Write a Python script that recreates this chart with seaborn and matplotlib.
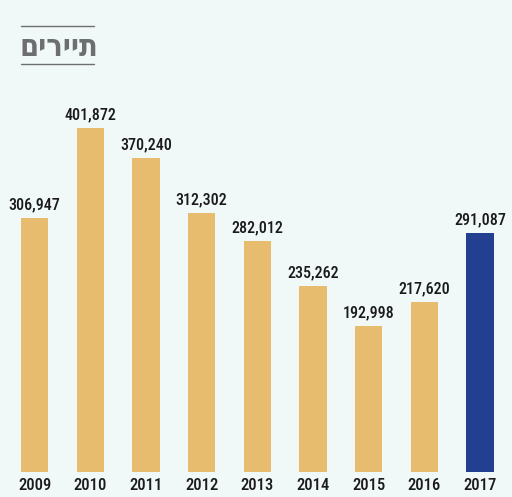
import matplotlib
matplotlib.use("Agg")
import matplotlib.pyplot as plt
from matplotlib.lines import Line2D
import seaborn as sns
import pandas as pd
from matplotlib import font_manager

years = ["2009", "2010", "2011", "2012", "2013", "2014", "2015", "2016", "2017"]
tourists = [306947, 401872, 370240, 312302, 282012, 235262, 192998, 217620, 291087]
title_text = "תיירים"

BG = "#f1f8f8"
TAN = "#e7bc6e"
BLUE = "#233f8f"
colors = [TAN] * 8 + [BLUE]

sns.set_theme(style="white")
names = {f.name for f in font_manager.fontManager.ttflist}
cands = ["Roboto Condensed", "Open Sans Condensed", "Liberation Sans Narrow",
         "Noto Sans Condensed", "Arial Narrow", "DejaVu Sans Condensed"]
num_font = next((c for c in cands if c in names), None)
stretch = "normal"
if num_font is None:
    num_font = "DejaVu Sans"
    stretch = "condensed"
plt.rcParams["font.family"] = [num_font, "DejaVu Sans"]

W, H = 512, 497
fig = plt.figure(figsize=(W / 100, H / 100), dpi=100, facecolor=BG)
ax_left = 6.9 / W
ax_w = 501 / W
ax_bottom = (H - 472) / H
ax_h = (472 - 80) / H
ax = fig.add_axes([ax_left, ax_bottom, ax_w, ax_h], facecolor=BG)

df = pd.DataFrame({"year": years, "tourists": tourists})
sns.barplot(data=df, x="year", y="tourists", hue="year", palette=colors,
            width=0.49, legend=False, ax=ax, saturation=1, linewidth=0,
            edgecolor="none")
ax.set_xlim(-0.5, 8.5)
ax.set_ylim(38236, 452613)
fs = 11.5 if stretch == "normal" else 9.5
for c in ax.containers:
    ax.bar_label(c, labels=[f"{int(round(v)):,}" for v in c.datavalues], padding=4,
                 fontsize=fs, fontweight="medium", color="#1a1a1a",
                 family=[num_font, "DejaVu Sans"], fontstretch=stretch)
ax.set_xlabel("")
ax.set_ylabel("")
ax.set_yticks([])
ax.tick_params(axis="x", length=0, pad=4, labelcolor="#1a1a1a")
for lab in ax.get_xticklabels():
    lab.set_fontweight("medium")
    lab.set_fontsize(fs + 0.5)
    lab.set_fontstretch(stretch)
for s in ax.spines.values():
    s.set_visible(False)

# Title (reversed for RTL display since matplotlib has no bidi)
fig.text(20 / W, 1 - 47 / H, title_text[::-1], fontsize=22, color="#6d6e70",
         family=["DejaVu Sans"], fontweight="bold", fontstretch="condensed",
         va="center", ha="left")
for yy in (26, 64):
    fig.add_artist(Line2D([21 / W, 94 / W], [1 - yy / H, 1 - yy / H],
                          color="#6d6e70", lw=1, transform=fig.transFigure))

fig.savefig("out.png", dpi=100, facecolor=BG)
